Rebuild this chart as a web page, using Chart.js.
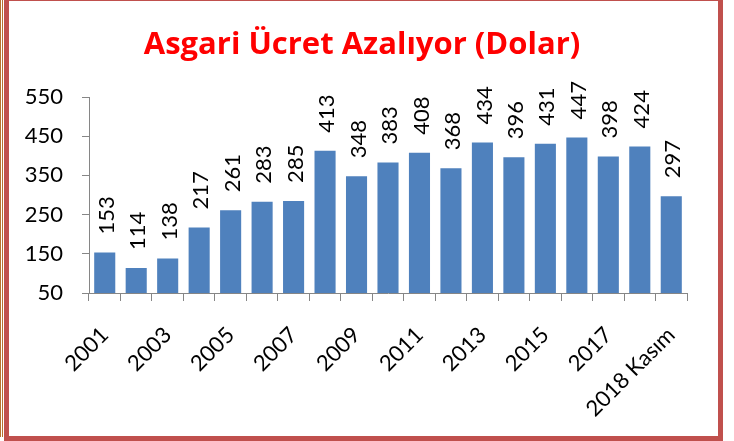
<!DOCTYPE html>
<html>
<head>
<meta charset="utf-8">
<script src="https://cdn.jsdelivr.net/npm/chart.js@4/dist/chart.umd.min.js"></script>
<style>
	html, body { margin: 0; padding: 0; background: #fff; }
	#wrap { position: relative; width: 734px; height: 441px; overflow: hidden; }
	#chart { position: absolute; left: 0; top: 0; }
	#frame { position: absolute; left: 4px; top: -4px; width: 709px; height: 435px; border: 5px solid #C0504D; }
	#edge { position: absolute; left: 0; top: 0; width: 1px; height: 437px; border-left: 1px solid #B8702E; border-right: 1px solid #B8702E; }
</style>
</head>
<body>
<div id="wrap">
	<canvas id="chart" width="734" height="441"></canvas>
	<div id="edge"></div>
	<div id="frame"></div>
</div>
<script>
(() => {
	'use strict'

	const chartTitle = 'Asgari Ücret Azalıyor (Dolar)';
	const years = ['2001', '2002', '2003', '2004', '2005', '2006', '2007', '2008', '2009', '2010',
		'2011', '2012', '2013', '2014', '2015', '2016', '2017', '2018', '2018 Kasım'];
	const wages = [153, 114, 138, 217, 261, 283, 285, 413, 348, 383, 408, 368, 434, 396, 431, 447, 398, 424, 297];
	const yTicks = [50, 150, 250, 350, 450, 550];

	const fontFamily = 'Lato, "Open Sans", sans-serif';
	const titleFamily = '"Open Sans", Lato, sans-serif';
	const axisGrey = '#868686';

	const titlePlugin = {
		id: 'fixedTitle',
		afterDraw(chart) {
			const ctx = chart.ctx;
			ctx.save();
			ctx.font = 'bold 31px ' + titleFamily;
			ctx.fillStyle = '#FF0000';
			ctx.textAlign = 'center';
			ctx.textBaseline = 'alphabetic';
			ctx.fillText(chartTitle, 362, 54);
			ctx.restore();
		}
	};

	const barLabels = {
		id: 'barLabels',
		afterDatasetsDraw(chart) {
			const ctx = chart.ctx;
			const meta = chart.getDatasetMeta(0);
			ctx.save();
			ctx.font = '22px ' + fontFamily;
			ctx.fillStyle = '#000';
			ctx.textAlign = 'left';
			ctx.textBaseline = 'middle';
			meta.data.forEach(function(bar, i) {
				ctx.save();
				ctx.translate(bar.x + 2, bar.y - 18);
				ctx.rotate(-Math.PI / 2);
				ctx.fillText(String(wages[i]), 0, 0);
				ctx.restore();
			});
			ctx.restore();
		}
	};

	new Chart(document.getElementById('chart'), {
		type: 'bar',
		data: {
			labels: years,
			datasets: [{
				data: wages,
				backgroundColor: '#4F81BD',
				borderWidth: 0,
				categoryPercentage: 1,
				barPercentage: 0.67
			}]
		},
		options: {
			responsive: false,
			devicePixelRatio: 1,
			animation: false,
			layout: {
				padding: { left: 0, right: 47, top: 97, bottom: 0 }
			},
			plugins: {
				legend: { display: false },
				title: { display: false },
				tooltip: { enabled: false }
			},
			scales: {
				x: {
					grid: {
						display: true,
						drawOnChartArea: false,
						drawTicks: true,
						tickLength: 8,
						color: axisGrey,
						offset: true
					},
					border: { display: true, color: axisGrey, width: 1 },
					ticks: {
						autoSkip: false,
						minRotation: 45,
						maxRotation: 45,
						padding: 21,
						color: '#000',
						font: { family: fontFamily, size: 22 },
						callback: function(value, index) {
							return index % 2 === 0 ? this.getLabelForValue(value) : '';
						}
					},
					afterFit: function(scale) {
						scale.height = 148;
					}
				},
				y: {
					min: yTicks[0],
					max: yTicks[yTicks.length - 1],
					afterBuildTicks: function(scale) {
						scale.ticks = yTicks.map((v) => ({ value: v }));
					},
					grid: {
						display: true,
						drawOnChartArea: false,
						drawTicks: true,
						tickLength: 7,
						color: axisGrey
					},
					border: { display: true, color: axisGrey, width: 1 },
					ticks: {
						padding: 19,
						color: '#000',
						font: { family: fontFamily, size: 22 }
					},
					afterFit: function(scale) {
						scale.width = 89;
					}
				}
			}
		},
		plugins: [titlePlugin, barLabels]
	});
})()
</script>
</body>
</html>
